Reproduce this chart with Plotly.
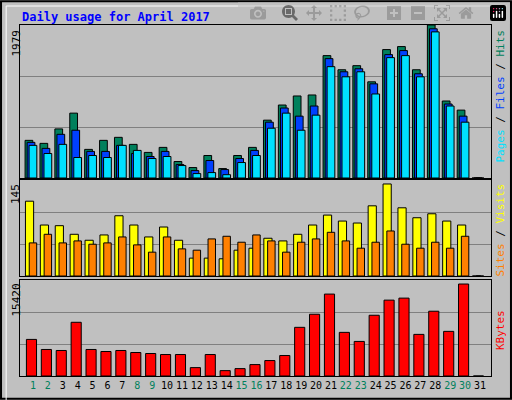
import plotly.graph_objects as go

days = list(range(1, 32))
hits  = [487,448,635,839,370,487,526,435,331,396,213,135,291,122,291,396,748,944,1061,1074,1583,1400,1453,1244,1661,1700,1400,1979,996,878,0]
files = [461,383,565,618,344,344,422,317,278,344,174,96,226,109,252,357,722,905,800,931,1544,1374,1413,1218,1596,1648,1348,1930,957,800,0]
pages = [422,317,435,265,291,265,422,357,252,278,161,57,70,43,200,291,644,839,618,813,1440,1309,1374,1087,1557,1583,1309,1890,931,722,0]
visits = [113,77,76,63,54,62,91,77,59,74,54,27,27,26,39,42,57,53,63,77,92,83,80,106,139,103,88,94,83,77,0]
sites  = [50,63,50,53,48,50,59,47,36,59,41,39,56,60,51,62,53,36,51,56,66,53,42,51,68,48,42,51,42,60,0]
kbytes = [5877,4260,4097,8627,4260,3936,4097,3774,3612,3451,3451,1348,3451,863,1186,1833,2480,3289,7817,9920,13156,7009,5553,9757,12185,12509,6686,10406,7171,14774,0]
weekend = {1,2,8,9,15,16,22,23,29,30}
max_hits, max_visits, max_kb = 1979, 145, 15420

font = "DejaVu Sans Mono"
fig = go.Figure()
def bars(vals, off, w, color, xa, ya):
    fig.add_trace(go.Bar(x=[d + off for d in days], y=vals, width=w, marker=dict(color=color, line=dict(color="black", width=1)),
                         xaxis=xa, yaxis=ya, showlegend=False))
bars(hits, -0.27, 0.52, "#00805C", "x", "y")
bars(files, -0.13, 0.52, "#0040FF", "x", "y")
bars(pages, 0.0, 0.52, "#00E0FF", "x", "y")
bars(visits, -0.23, 0.55, "#FFFF00", "x2", "y2")
bars(sites, 0.0, 0.5, "#FF8000", "x2", "y2")
bars(kbytes, -0.1, 0.68, "#FF0000", "x3", "y3")

xd = [20/512, 491/512]
xr = [0.13, 31.74]
ticktext = [f"<span style='color:{'#00805C' if d in weekend else 'black'}'>{d}</span>" for d in days]
common_x = dict(range=xr, showgrid=False, zeroline=False, showline=True, linecolor="black", mirror=True, domain=xd, fixedrange=True)
fig.update_layout(
    width=512, height=400, margin=dict(l=0, r=0, t=0, b=0),
    paper_bgcolor="#C0C0C0", plot_bgcolor="#C0C0C0", barmode="overlay",
    xaxis=dict(**common_x, showticklabels=False, anchor="y"),
    xaxis2=dict(**common_x, showticklabels=False, anchor="y2"),
    xaxis3=dict(**common_x, tickvals=days, ticktext=ticktext, ticks="", tickangle=0, tickfont=dict(family=font, size=10), anchor="y3"),
    yaxis=dict(domain=[0.555, 0.9375], range=[0, max_hits], tickvals=[max_hits/3, 2*max_hits/3], showticklabels=False, gridcolor="#808080", showline=True, linecolor="black", mirror=True, zeroline=False),
    yaxis2=dict(domain=[0.31, 0.55], range=[0, max_visits], tickvals=[max_visits/3, 2*max_visits/3], showticklabels=False, gridcolor="#808080", showline=True, linecolor="black", mirror=True, zeroline=False),
    yaxis3=dict(domain=[0.06, 0.30], range=[0, max_kb], tickvals=[max_kb/3, 2*max_kb/3], showticklabels=False, gridcolor="#808080", showline=True, linecolor="black", mirror=True, zeroline=False),
)
fig.add_shape(type="rect", xref="paper", yref="paper", x0=0.002, y0=0.003, x1=0.998, y1=0.997, line=dict(color="black", width=2))
fig.add_shape(type="line", xref="paper", yref="paper", x0=0.012, y0=0.0, x1=0.012, y1=0.985, line=dict(color="white", width=1))
fig.add_shape(type="line", xref="paper", yref="paper", x0=0.012, y0=0.985, x1=0.99, y1=0.985, line=dict(color="white", width=1))
fig.add_annotation(x=20/512, y=1-8/400, xref="paper", yref="paper", xanchor="left", yanchor="top", showarrow=False,
                   text="<b>Daily usage for April 2017</b>", font=dict(family=font, size=12, color="#0000FF"))
for txt, ytop in [(str(max_hits), 0.93), (str(max_visits), 0.545), (str(max_kb), 0.295)]:
    fig.add_annotation(x=16/512, y=ytop, xref="paper", yref="paper", xanchor="center", yanchor="top", textangle=-90,
                       showarrow=False, text=txt, font=dict(family=font, size=11, color="black"))
right = [("<span style='color:#00E0FF'>Pages</span> / <span style='color:#0040FF'>Files</span> / <span style='color:#00805C'>Hits</span>", 0.93),
         ("<span style='color:#FF8000'>Sites</span> / <span style='color:#FFFF00'>Visits</span>", 0.545),
         ("<span style='color:#FF0000'>KBytes</span>", 0.23)]
for txt, ytop in right:
    fig.add_annotation(x=500/512, y=ytop, xref="paper", yref="paper", xanchor="center", yanchor="top", textangle=-90,
                       showarrow=False, text=txt, font=dict(family=font, size=11, color="black"))
fig.write_html("out.html", post_script="document.body.style.margin='0';document.body.style.overflow='hidden';")
